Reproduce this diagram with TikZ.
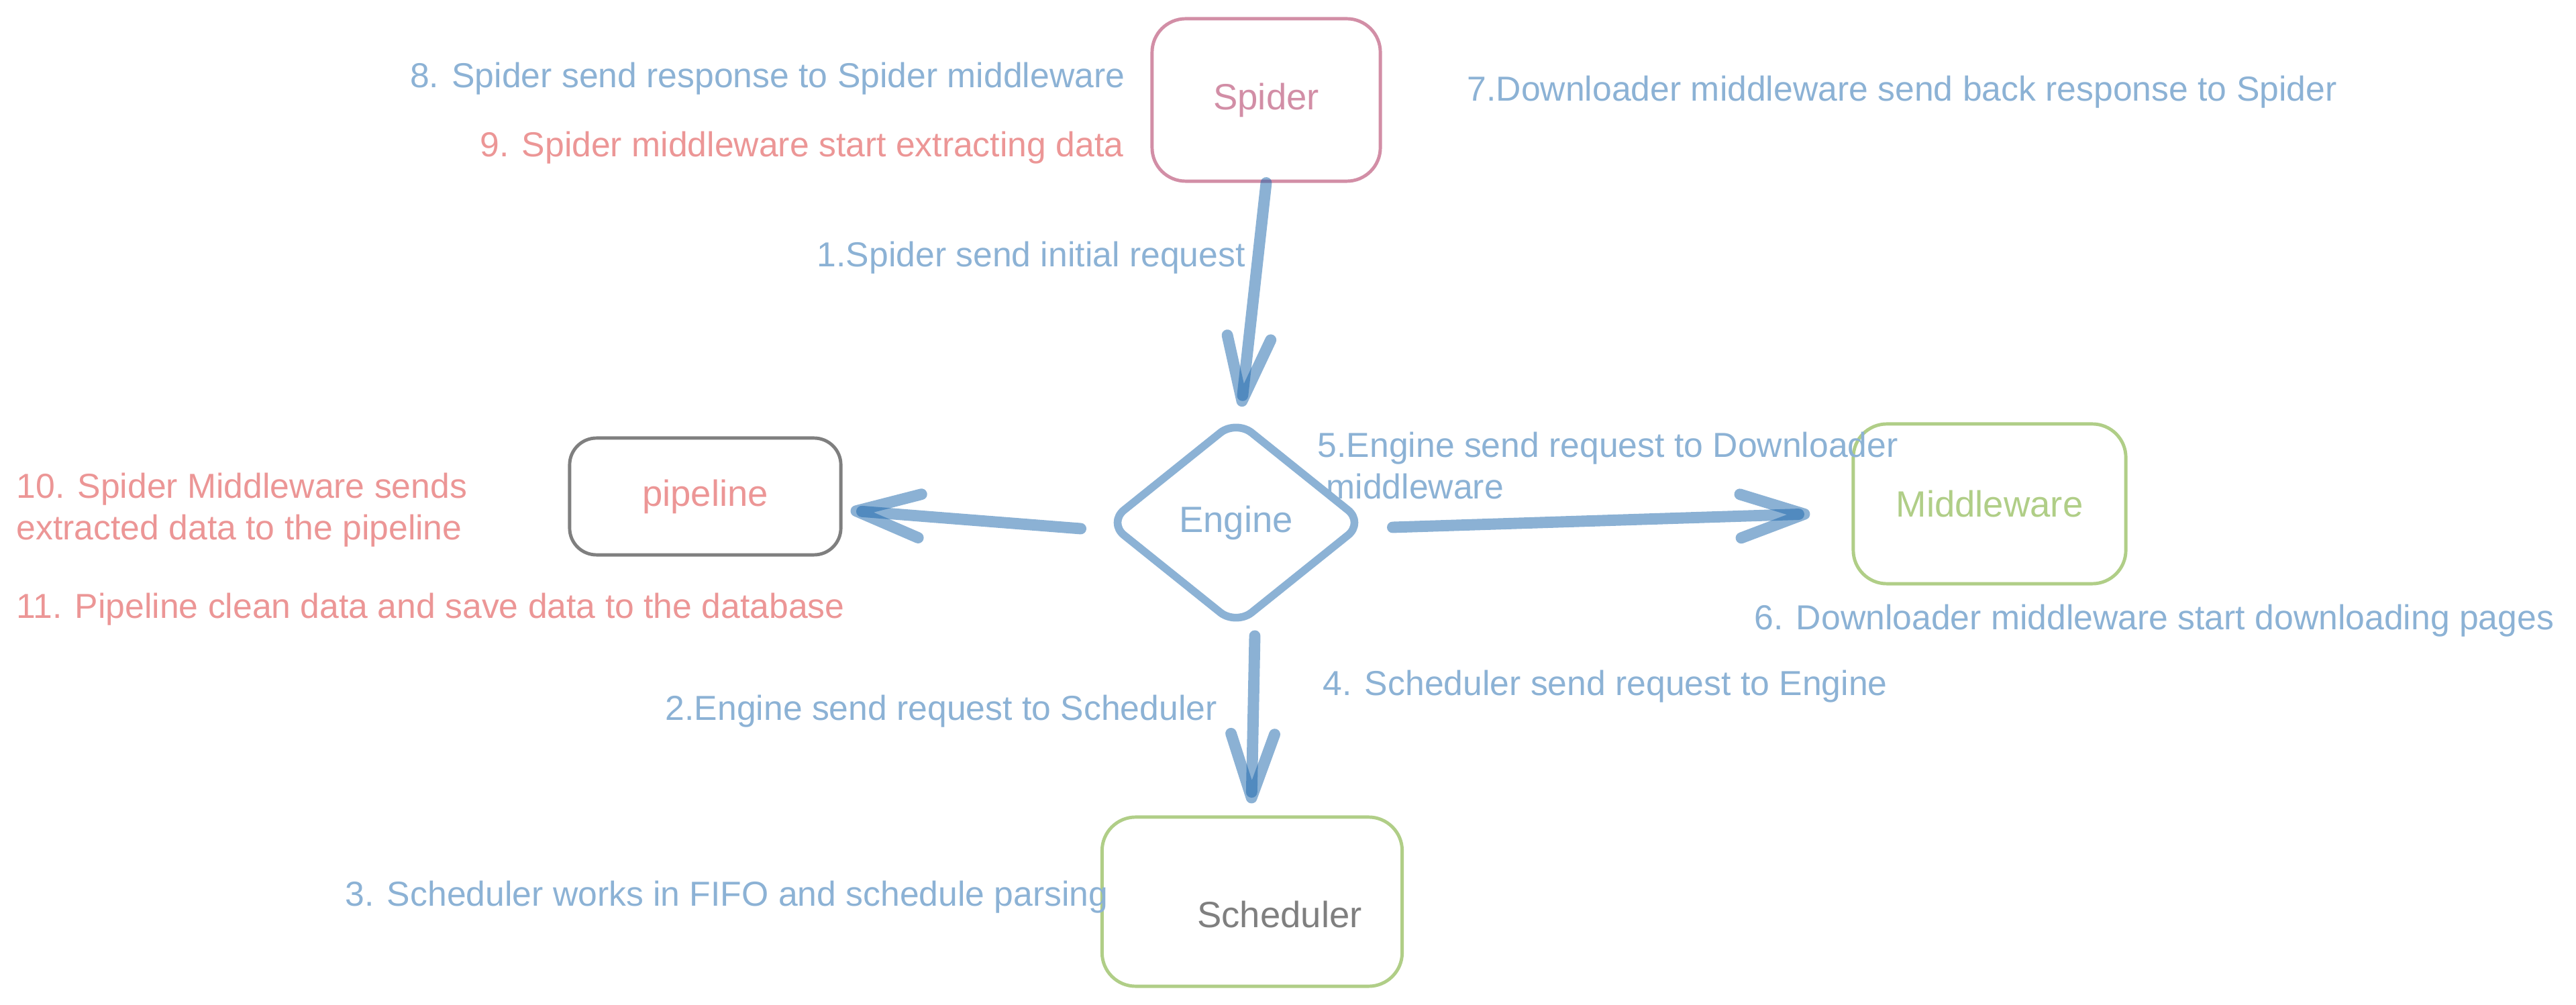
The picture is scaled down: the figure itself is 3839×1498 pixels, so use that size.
\documentclass[tikz,border=0pt]{standalone}
\usepackage{fontspec}
\setmainfont{Liberation Sans}
\usetikzlibrary{arrows.meta,shapes.geometric,calc}
\definecolor{tblue}{RGB}{140,178,213}
\definecolor{ablue}{HTML}{1864AB}
\definecolor{tred}{RGB}{236,150,150}
\definecolor{tpink}{RGB}{210,142,166}
\definecolor{tgreen}{RGB}{176,206,135}
\definecolor{tgray}{RGB}{127,127,127}
\begin{document}
\begin{tikzpicture}[x=0.01cm,y=-0.01cm,
 lbl/.style={font=\fontsize{14.7}{17.6}\selectfont, inner sep=0pt},
 bluelbl/.style={lbl, text=tblue},
 redlbl/.style={lbl, text=tred},
 box/.style={draw, rounded corners=0.5cm, line width=1.4pt, inner sep=0pt, font=\fontsize{15.5}{18}\selectfont},
 arr/.style={draw=ablue, draw opacity=0.5, line width=4.8pt, line cap=round,
   -{Straight Barb[length=0.95cm,width=0.65cm,round]}},
]
\fill[white] (0,0) rectangle (3839,1498);
\useasboundingbox (0,0) rectangle (3839,1498);

% boxes
\node[box, draw=tpink, text=tpink, minimum width=3.4cm, minimum height=2.42cm] (spider) at (1887,149) {Spider};
\node[box, draw=tgray, text=tred, minimum width=4.04cm, minimum height=1.74cm, rounded corners=0.4cm] (pipe) at (1051,740) {pipeline};
\node[box, draw=tgreen, text=tgreen, minimum width=4.06cm, minimum height=2.38cm] (mw) at (2965,751) {Middleware};
\node[box, draw=tgreen, minimum width=4.47cm, minimum height=2.52cm] (sched) at (1866,1344) {};
\node[lbl, text=tgray, font=\fontsize{15.5}{18}\selectfont] (schedtext) at (1907,1363) {Scheduler};
\node[diamond, draw=tblue, text=tblue, line width=3.3pt, inner sep=0pt,
      minimum width=3.85cm, minimum height=3.1cm, rounded corners=0.3cm,
      font=\fontsize{15.5}{18}\selectfont] (engine) at (1842,779) {\raisebox{-0.07cm}{Engine}};

% connectors
\draw[arr] (spider.south) -- ($(engine.north)+(8,-12)$);
\draw[arr] ($(engine.south)+(28,8)$) -- ($(sched.north)+(-1,-18)$);
\draw[arr] ($(engine.west)+(-33,9)$) -- ($(pipe.east)+(12,21)$);
\draw[arr] ($(engine.east)+(35,7)$) -- ($(mw.west)+(-62,15)$);

% labels
\node[bluelbl, anchor=east] (t8) at (1677,117) {8. Spider send response to Spider middleware};
\node[redlbl, anchor=east] (t9) at (1675,220) {9. Spider middleware start extracting data};
\node[bluelbl, anchor=west] (t7) at (2186,137) {7.Downloader middleware send back response to Spider};
\node[bluelbl, anchor=west] (t1) at (1217,384) {1.Spider send initial request};
\node[bluelbl, anchor=west, align=left] (t5) at (1963,694) {5.Engine send request to Downloader\\\hspace*{0.25em}middleware};
\node[redlbl, anchor=west, align=left] (t10) at (24,760) {10. Spider Middleware sends\\extracted data to the pipeline};
\node[redlbl, anchor=west] (t11) at (24,908) {11. Pipeline clean data and save data to the database};
\node[bluelbl, anchor=west] (t6) at (2614,925) {6. Downloader middleware start downloading pages};
\node[bluelbl, anchor=west] (t4) at (1971,1023) {4. Scheduler send request to Engine};
\node[bluelbl, anchor=west] (t2) at (991,1060) {2.Engine send request to Scheduler};
\node[bluelbl, anchor=west] (t3) at (514,1337) {3. Scheduler works in FIFO and schedule parsing};
\end{tikzpicture}
\end{document}
